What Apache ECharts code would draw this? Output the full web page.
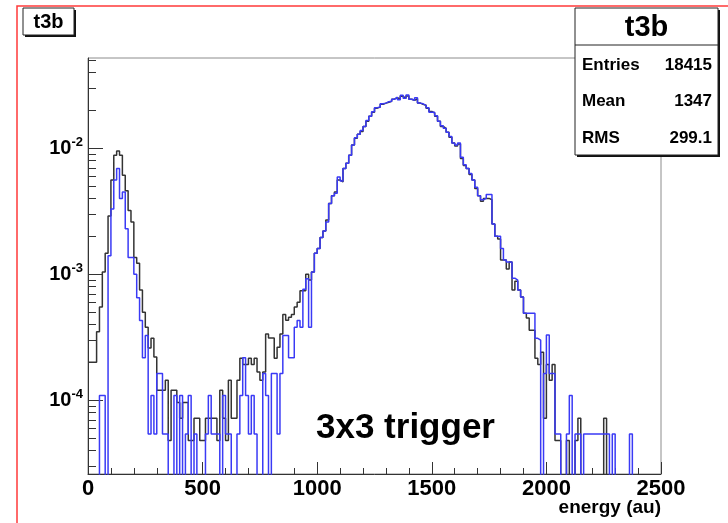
<!DOCTYPE html>
<html>
<head>
<meta charset="utf-8">
<script src="https://cdn.jsdelivr.net/npm/echarts@6/dist/echarts.min.js"></script>
<style>
  html, body { margin: 0; padding: 0; background: #ffffff; }
  #chart { width: 728px; height: 523px; }
</style>
</head>
<body>
<div id="chart"></div>
<script>
// ---- data -------------------------------------------------------------
const histName = 't3b';
const binWidth = 12.5;                       // energy (au) per bin, 200 bins over 0..2500
const energyTicks = [0, 500, 1000, 1500, 2000, 2500];
const decadeTicks = [-4, -3, -2];            // labelled powers of ten on the y axis
const yRange = [2.6e-5, 0.052];
const statsRows = [['Entries', '18415'], ['Mean', '1347'], ['RMS', '299.1']];
const annotation = '3x3 trigger';
const xTitle = 'energy (au)';

// normalised bin contents, black histogram
const blackHist = [
  2.0e-4, 2.0e-4, 2.0e-4, 3.5e-4, 5.5e-4, 1.04e-3, 1.47e-3, 2.9e-3, 5.6e-3, 8.8e-3,
  9.5e-3, 8.8e-3, 6.1e-3, 4.6e-3, 3.2e-3, 2.6e-3, 1.36e-3, 1.22e-3, 7.5e-4, 5.0e-4,
  3.8e-4, 2.6e-4, 3.1e-4, 2.2e-4, 1.2e-4, 1.2e-4, 1.2e-4, 1.44e-4, 4.8e-5, 1.2e-4,
  1.2e-4, 9.6e-5, 7.2e-5, 9.6e-5, 9.6e-5, 4.8e-5, 4.8e-5, 7.2e-5, 7.2e-5, 4.8e-5,
  4.8e-5, 7.2e-5, 7.2e-5, 7.2e-5, 7.2e-5, 4.8e-5, 1.2e-4, 7.2e-5, 4.8e-5, 1.44e-4,
  7.2e-5, 7.2e-5, 1.44e-4, 2.16e-4, 1.92e-4, 1.92e-4, 2.16e-4, 1.92e-4, 2.16e-4, 1.68e-4,
  1.44e-4, 1.68e-4, 3.36e-4, 3.12e-4, 3.12e-4, 2.16e-4, 2.64e-4, 3.36e-4, 4.8e-4, 4.32e-4,
  4.56e-4, 4.8e-4, 5.5e-4, 6.0e-4, 7.4e-4, 7.4e-4, 1.0e-3, 9.0e-4, 1.04e-3, 1.47e-3,
  1.6e-3, 1.96e-3, 2.2e-3, 2.7e-3, 3.65e-3, 4.2e-3, 4.5e-3, 5.6e-3, 5.4e-3, 6.9e-3,
  7.6e-3, 8.8e-3, 0.0106, 0.0120, 0.0129, 0.0136, 0.0149, 0.0164, 0.0179, 0.0193,
  0.0208, 0.0212, 0.0223, 0.0228, 0.0232, 0.0236, 0.0245, 0.0252, 0.0245, 0.0258,
  0.0249, 0.0260, 0.0245, 0.0240, 0.0247, 0.0228, 0.0223, 0.0219, 0.0208, 0.0196,
  0.0190, 0.0179, 0.0164, 0.0149, 0.0144, 0.0134, 0.0122, 0.0110, 0.0104, 0.0108,
  0.0083, 0.0073, 0.0069, 0.0062, 0.0056, 0.0048, 0.0042, 0.0038, 0.0040, 0.0040,
  0.0039, 0.0025, 0.0020, 0.0019, 0.0013, 0.0013, 0.0011, 0.00125, 7.5e-4, 8.8e-4,
  7.5e-4, 6.6e-4, 4.9e-4, 4.5e-4, 3.6e-4, 3.6e-4, 2.16e-4, 1.92e-4, 2.4e-4, 7.2e-5,
  1.92e-4, 1.44e-4, 1.92e-4, 4.8e-5, 4.8e-5, 0, 0, 4.8e-5, 0, 0,
  4.8e-5, 7.2e-5, 0, 0, 0, 0, 0, 0, 0, 0,
  7.2e-5, 0, 0, 0, 0, 0, 0, 0, 0, 0,
  0, 0, 0, 0, 0, 0, 0, 0, 0, 0
];

// normalised bin contents, blue histogram
const blueHist = [
  0, 0, 0, 0, 1.09e-4, 1.09e-4, 0, 1.4e-3, 3.3e-3, 5.6e-3,
  6.9e-3, 4.0e-3, 4.5e-3, 2.3e-3, 1.36e-3, 1.36e-3, 1.0e-3, 6.5e-4, 4.3e-4, 2.17e-4,
  3.26e-4, 5.4e-5, 1.09e-4, 5.4e-5, 1.63e-4, 1.63e-4, 5.4e-5, 5.4e-5, 0, 0,
  1.09e-4, 0, 1.09e-4, 0, 5.4e-5, 1.09e-4, 0, 5.4e-5, 0, 0,
  0, 5.4e-5, 1.09e-4, 5.4e-5, 5.4e-5, 5.4e-5, 0, 1.09e-4, 5.4e-5, 5.4e-5,
  0, 0, 5.4e-5, 1.09e-4, 2.17e-4, 1.09e-4, 5.4e-5, 1.09e-4, 5.4e-5, 0,
  0, 1.63e-4, 1.09e-4, 0, 1.63e-4, 1.63e-4, 5.4e-5, 1.63e-4, 3.26e-4, 3.26e-4,
  2.17e-4, 2.17e-4, 3.8e-4, 4.3e-4, 3.8e-4, 7.6e-4, 9.2e-4, 3.8e-4, 1.04e-3, 1.47e-3,
  1.6e-3, 1.96e-3, 2.2e-3, 2.6e-3, 3.65e-3, 4.2e-3, 4.4e-3, 5.9e-3, 5.5e-3, 6.9e-3,
  7.6e-3, 8.8e-3, 0.0106, 0.0121, 0.0129, 0.0138, 0.0149, 0.0166, 0.0179, 0.0195,
  0.0210, 0.0212, 0.0225, 0.0228, 0.0234, 0.0236, 0.0245, 0.0254, 0.0243, 0.0263,
  0.0249, 0.0265, 0.0245, 0.0240, 0.0251, 0.0228, 0.0225, 0.0219, 0.0210, 0.0193,
  0.0193, 0.0181, 0.0164, 0.0151, 0.0144, 0.0134, 0.0124, 0.0110, 0.0106, 0.0110,
  0.0085, 0.0074, 0.0069, 0.0063, 0.0056, 0.0049, 0.0042, 0.0039, 0.0040, 0.0043,
  0.0043, 0.0025, 0.0020, 0.0020, 0.0016, 0.0013, 0.00125, 0.00125, 9.3e-4, 9.0e-4,
  7.5e-4, 6.6e-4, 4.9e-4, 4.9e-4, 4.9e-4, 4.9e-4, 3.1e-4, 3.0e-4, 0, 1.63e-4,
  3.3e-4, 1.63e-4, 1.63e-4, 5.4e-5, 5.4e-5, 0, 0, 5.4e-5, 1.09e-4, 0,
  5.4e-5, 5.4e-5, 0, 5.4e-5, 5.4e-5, 5.4e-5, 5.4e-5, 5.4e-5, 5.4e-5, 5.4e-5,
  5.4e-5, 5.4e-5, 0, 5.4e-5, 0, 0, 0, 0, 0, 5.4e-5,
  0, 0, 0, 0, 0, 0, 0, 0, 0, 0
];

// ---- helpers ----------------------------------------------------------
const FONT = '"Liberation Sans", Arial, Helvetica, sans-serif';
const AXIS_COLOR = '#333333';

// histogram outline: one point per lower bin edge plus the upper edge of the last bin;
// empty bins are sent far below the axis minimum so the outline drops to the frame
function histOutline(values) {
  const floor = yRange[0] * 1e-3;
  const pts = values.map((v, i) => [i * binWidth, v > 0 ? v : floor]);
  pts.push([values.length * binWidth, pts[pts.length - 1][1]]);
  return pts;
}

// minor log ticks at 2..9 x 10^n, expressed as log10 values
const minorLogTicks = [];
for (let e = -5; e <= -1; e++) {
  for (let k = 2; k <= 9; k++) {
    const lv = Math.log10(k * Math.pow(10, e));
    if (lv > Math.log10(yRange[0]) && lv < Math.log10(yRange[1])) minorLogTicks.push(lv);
  }
}

const gridBox = { left: 88, top: 58, right: 67, bottom: 49, outerBoundsMode: 'none', containLabel: false };
const logMin = Math.log10(yRange[0]);
const logMax = Math.log10(yRange[1]);

const chart = echarts.init(document.getElementById('chart'), null, { renderer: 'canvas' });

chart.setOption({
  animation: false,
  backgroundColor: '#ffffff',
  grid: [
    Object.assign({ show: true, borderColor: '#8c8c8c', borderWidth: 1, backgroundColor: 'transparent' }, gridBox),
    Object.assign({ show: false }, gridBox),
    Object.assign({ show: false }, gridBox)
  ],
  xAxis: [
    {
      gridIndex: 0, type: 'value', min: 0, max: 2500, interval: 500,
      name: xTitle, nameLocation: 'end', nameGap: 0, nameMoveOverlap: false,
      nameTextStyle: { fontFamily: FONT, fontWeight: 'bold', fontSize: 19, color: '#000',
                       align: 'right', verticalAlign: 'top', padding: [24, 0, 0, 0] },
      axisLine: { show: true, onZero: false, lineStyle: { color: AXIS_COLOR, width: 1 } },
      axisTick: { show: true, inside: true, length: 12, lineStyle: { color: AXIS_COLOR, width: 1 } },
      minorTick: { show: true, splitNumber: 5, length: 6, lineStyle: { color: AXIS_COLOR, width: 1 } },
      axisLabel: { customValues: energyTicks, formatter: v => String(v),
                   fontFamily: FONT, fontWeight: 'bold', fontSize: 22, color: '#000', margin: 4 },
      splitLine: { show: false }, minorSplitLine: { show: false }
    },
    { gridIndex: 1, type: 'value', min: 0, max: 2500, show: false },
    { gridIndex: 2, type: 'value', min: 0, max: 2500, show: false }
  ],
  yAxis: [
    {
      gridIndex: 0, type: 'log', logBase: 10, min: yRange[0], max: yRange[1],
      axisLine: { show: true, lineStyle: { color: AXIS_COLOR, width: 1 } },
      axisTick: { show: false }, axisLabel: { show: false },
      splitLine: { show: false }, minorTick: { show: false }
    },
    {
      gridIndex: 1, type: 'value', min: logMin, max: logMax,
      axisLine: { show: false },
      axisTick: { show: true, inside: true, length: 15, customValues: decadeTicks,
                  lineStyle: { color: AXIS_COLOR, width: 1 } },
      axisLabel: {
        customValues: decadeTicks, margin: 5,
        formatter: v => '{b|10}{s|-' + Math.abs(Math.round(v)) + '}',
        rich: {
          b: { fontFamily: FONT, fontWeight: 'bold', fontSize: 20, color: '#000', lineHeight: 24 },
          s: { fontFamily: FONT, fontWeight: 'bold', fontSize: 13, color: '#000', verticalAlign: 'top', lineHeight: 13 }
        }
      },
      splitLine: { show: false }
    },
    {
      gridIndex: 2, type: 'value', min: logMin, max: logMax,
      axisLine: { show: false },
      axisTick: { show: true, inside: true, length: 8, customValues: minorLogTicks,
                  lineStyle: { color: AXIS_COLOR, width: 1 } },
      axisLabel: { show: false },
      splitLine: { show: false }
    }
  ],
  series: [
    {
      name: 'black', type: 'line', xAxisIndex: 0, yAxisIndex: 0, step: 'end',
      data: histOutline(blackHist), symbol: 'none', clip: true, z: 3,
      lineStyle: { color: '#333333', width: 1.5 }
    },
    {
      name: 'blue', type: 'line', xAxisIndex: 0, yAxisIndex: 0, step: 'end',
      data: histOutline(blueHist), symbol: 'none', clip: true, z: 4,
      lineStyle: { color: '#3a3af5', width: 1.5 }
    }
  ],
  graphic: [
    // canvas outline
    { type: 'rect', z: 50, silent: true, shape: { x: 17, y: 6, width: 900, height: 700 },
      style: { fill: 'none', stroke: '#ff3a3a', lineWidth: 1.5 } },
    // title pave
    { type: 'rect', z: 60, shape: { x: 25, y: 10, width: 51, height: 27 }, style: { fill: '#111' } },
    { type: 'rect', z: 61, shape: { x: 23, y: 8, width: 51, height: 27 },
      style: { fill: '#fff', stroke: '#222', lineWidth: 1 } },
    { type: 'text', z: 62, x: 48.5, y: 22,
      style: { text: histName, font: 'bold 20px ' + FONT, fill: '#000', align: 'center', verticalAlign: 'middle' } },
    // statistics box
    { type: 'rect', z: 60, shape: { x: 577, y: 10, width: 143, height: 147 }, style: { fill: '#111' } },
    { type: 'rect', z: 61, shape: { x: 575, y: 8, width: 143, height: 147 },
      style: { fill: '#fff', stroke: '#222', lineWidth: 1 } },
    { type: 'line', z: 62, shape: { x1: 575, y1: 45, x2: 718, y2: 45 }, style: { stroke: '#222', lineWidth: 1 } },
    { type: 'text', z: 62, x: 646.5, y: 28,
      style: { text: histName, font: 'bold 29px ' + FONT, fill: '#000', align: 'center', verticalAlign: 'middle' } },
    ...statsRows.map((row, i) => ({ type: 'text', z: 62, x: 582, y: 65 + i * 36.5,
      style: { text: row[0], font: 'bold 17px ' + FONT, fill: '#000', align: 'left', verticalAlign: 'middle' } })),
    ...statsRows.map((row, i) => ({ type: 'text', z: 62, x: 712, y: 65 + i * 36.5,
      style: { text: row[1], font: 'bold 17px ' + FONT, fill: '#000', align: 'right', verticalAlign: 'middle' } })),
    // trigger annotation
    { type: 'text', z: 62, x: 316, y: 428,
      style: { text: annotation, font: 'bold 35px ' + FONT, fill: '#000', align: 'left', verticalAlign: 'middle' } }
  ]
});
</script>
</body>
</html>
